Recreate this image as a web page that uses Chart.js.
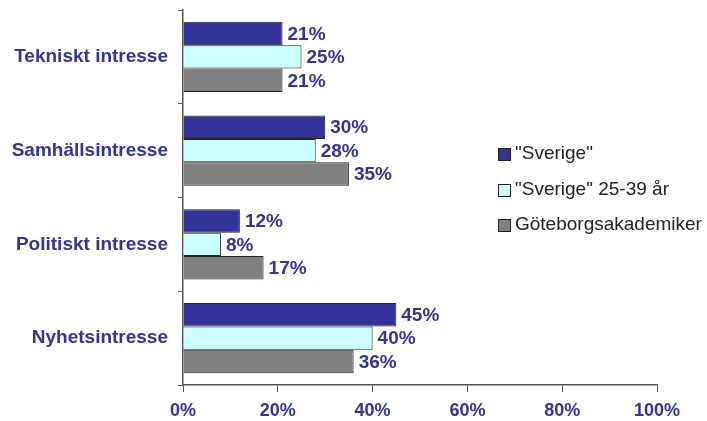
<!DOCTYPE html>
<html lang="sv">
  <head>
    <meta charset="UTF-8" />
    <title>Intressen</title>
    <script src="https://cdn.jsdelivr.net/npm/chart.js"></script>
    <style>
      body { margin: 0; background: #fff; }
      #wrap { position: relative; width: 707px; height: 421px; }
      #legend {
        position: absolute; left: 498px; top: 142px;
        font-family: "Liberation Sans", Arial, sans-serif; font-size: 19px; color: #222;
      }
      #legend div { height: 35.5px; display: flex; align-items: flex-start; }
      #legend span.box {
        display: inline-block; width: 11px; height: 11px; border: 1px solid #222;
        margin: 6px 4px 0 0;
      }
    </style>
  </head>
  <body>
    <div id="wrap">
      <canvas id="chart" width="707" height="421"></canvas>
      <div id="legend"></div>
    </div>
    <script>
      const categories = ["Tekniskt intresse", "Samhällsintresse", "Politiskt intresse", "Nyhetsintresse"];
      const series_names = ['"Sverige"', '"Sverige" 25-39 år', "Göteborgsakademiker"];
      const sverige = [21, 30, 12, 45];
      const sverige_25_39 = [25, 28, 8, 40];
      const goteborg = [21, 35, 17, 36];
      const colors = ["#333399", "#ccffff", "#808080"];

      const font = "'Liberation Sans', Arial, sans-serif";
      const navy = "#333399";

      // value labels to the right of each bar
      const valueLabels = {
        id: "valueLabels",
        afterDatasetsDraw(chart) {
          const ctx = chart.ctx;
          ctx.save();
          ctx.font = "bold 19px " + font;
          ctx.fillStyle = navy;
          ctx.textBaseline = "middle";
          chart.data.datasets.forEach((ds, i) => {
            chart.getDatasetMeta(i).data.forEach((bar, j) => {
              ctx.fillText(ds.data[j] + "%", bar.x + 5, bar.y + 1);
            });
          });
          ctx.restore();
        },
      };

      const allData = [sverige, sverige_25_39, goteborg];
      const datasets = series_names.map((name, i) => ({
        label: name,
        data: allData[i],
        backgroundColor: colors[i],
        borderColor: "#222",
        borderWidth: 1,
        categoryPercentage: 0.75,
        barPercentage: 1,
      }));

      new Chart(document.getElementById("chart"), {
        type: "bar",
        data: { labels: categories, datasets: datasets },
        options: {
          indexAxis: "y",
          responsive: false,
          animation: false,
          layout: { padding: { top: 10, right: 50, left: 0, bottom: 0 } },
          plugins: { legend: { display: false }, tooltip: { enabled: false } },
          scales: {
            x: {
              min: 0,
              max: 100,
              afterFit: (s) => { s.height = 36; },
              ticks: {
                stepSize: 20,
                padding: 8,
                color: navy,
                font: { family: font, size: 18, weight: "bold" },
                callback: (v) => v + "%",
              },
              grid: { drawOnChartArea: false, tickLength: 7, color: "#555" },
              border: { color: "#555", width: 1.5 },
            },
            y: {
              afterFit: (s) => { s.width = 183; s.paddingTop = 0; s.paddingBottom = 0; },
              ticks: {
                padding: 10,
                color: navy,
                font: { family: font, size: 19, weight: "bold" },
              },
              grid: { offset: true, drawOnChartArea: false, tickLength: 5, color: "#555" },
              border: { color: "#555", width: 1.5 },
            },
          },
        },
        plugins: [valueLabels],
      });

      const legend = document.getElementById("legend");
      series_names.forEach((name, i) => {
        legend.innerHTML += `<div><span class="box" style="background:${colors[i]}"></span>${name}</div>`;
      });
    </script>
  </body>
</html>
